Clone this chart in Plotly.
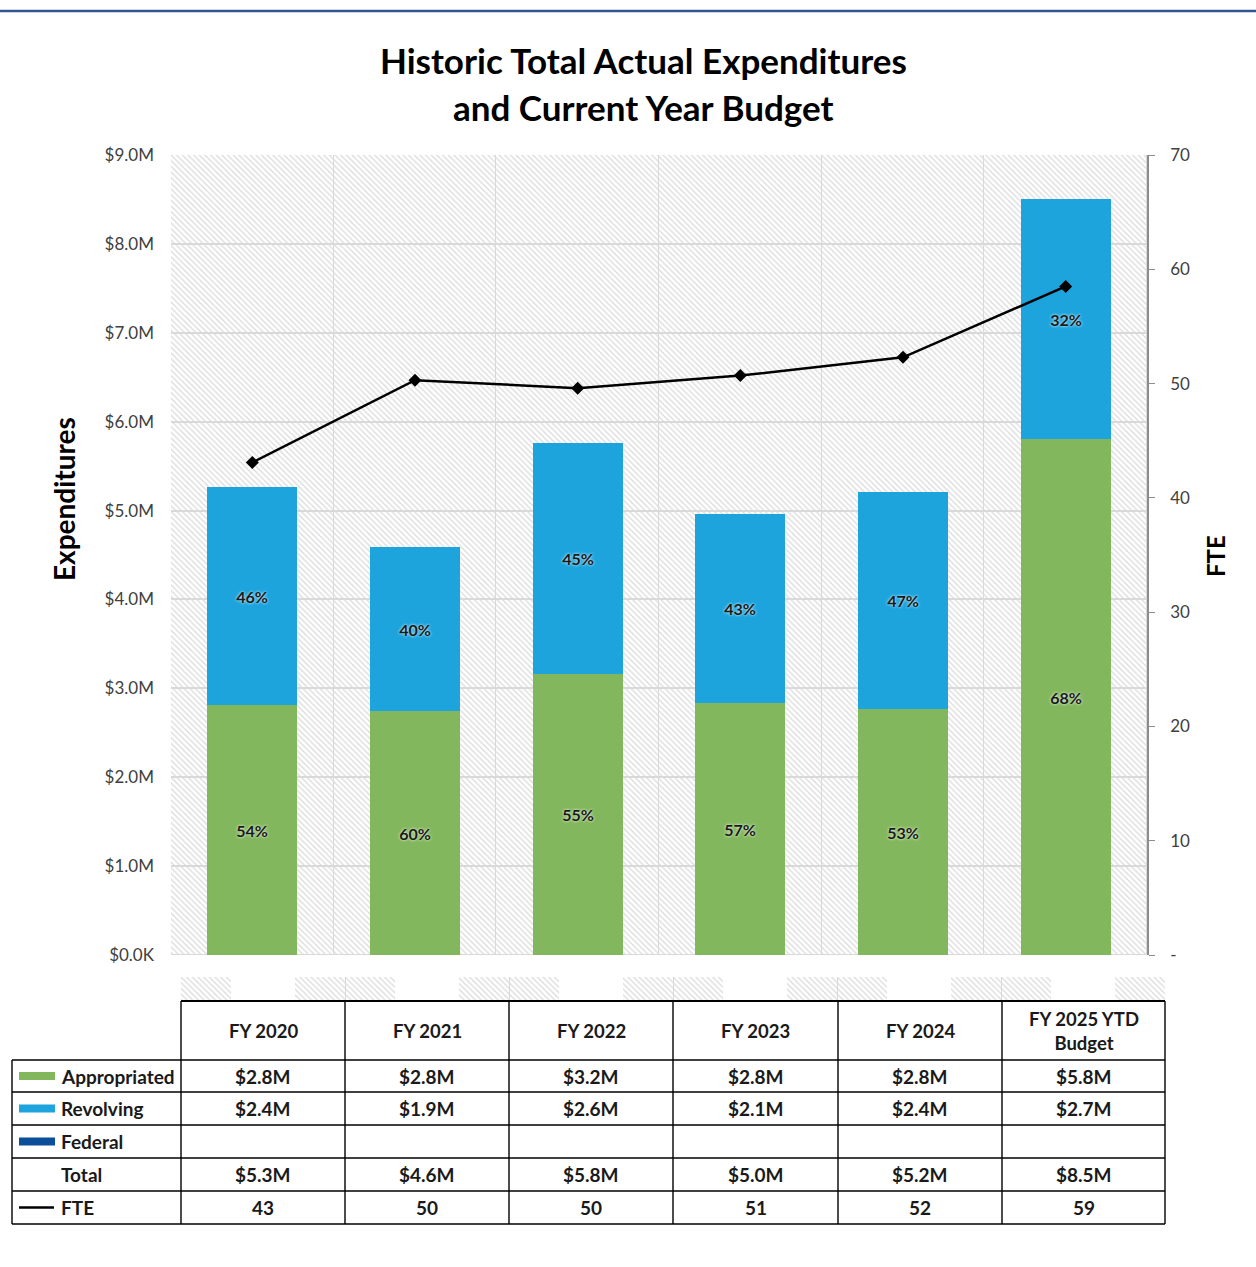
import plotly.graph_objects as go
import numpy as np

# ---------------- data ----------------
categories = ["FY 2020", "FY 2021", "FY 2022", "FY 2023", "FY 2024", "FY 2025 YTD Budget"]
appropriated = [2.81, 2.75, 3.16, 2.83, 2.77, 5.80]      # $M
revolving = [2.46, 1.84, 2.60, 2.13, 2.44, 2.70]         # $M
fte = [43.1, 50.3, 49.6, 50.7, 52.3, 58.5]
appropriated_pct = ["54%", "60%", "55%", "57%", "53%", "68%"]
revolving_pct = ["46%", "40%", "45%", "43%", "47%", "32%"]

y_tick_vals = list(range(0, 10))
y_tick_text = ["$0.0K"] + [f"${v}.0M" for v in range(1, 10)]
fte_tick_vals = list(range(0, 80, 10))
fte_tick_text = ["-"] + [str(v) for v in range(10, 80, 10)]

table_header = ["FY 2020", "FY 2021", "FY 2022", "FY 2023", "FY 2024", "FY 2025 YTD<br>Budget"]
row_labels = ["Appropriated", "Revolving", "Federal", "Total", "FTE"]
table_appropriated = ["$2.8M", "$2.8M", "$3.2M", "$2.8M", "$2.8M", "$5.8M"]
table_revolving = ["$2.4M", "$1.9M", "$2.6M", "$2.1M", "$2.4M", "$2.7M"]
table_federal = ["", "", "", "", "", ""]
table_total = ["$5.3M", "$4.6M", "$5.8M", "$5.0M", "$5.2M", "$8.5M"]
table_fte = ["43", "50", "50", "51", "52", "59"]

# ---------------- styles ----------------
GREEN = "#83b75d"
BLUE = "#1da4dd"
FED = "#0b4e9a"
GRID = "#d9d9d9"
FONT = "Lato"

W, H = 1256, 1267
PL, PR, PT, PB = 12, 1165, 155, 1224   # paper region in pixels


def X(px):
    return (px - PL) / (PR - PL)


def Y(py):
    return (PB - py) / (PB - PT)


fig = go.Figure()

hatch = dict(shape="\\", size=4, solidity=0.3, fillmode="replace", fgcolor=GRID)

# hatched plot-area background
fig.add_trace(go.Bar(
    x=categories, y=[9] * len(categories), width=1,
    marker=dict(color=GRID, pattern=hatch, line=dict(color=GRID, width=1)),
    hoverinfo="skip", showlegend=False,
))

pct_font = dict(family=FONT, size=16, color="#1a1a1a", weight="bold",
                shadow="0px 0px 3px white")
fig.add_trace(go.Bar(
    x=categories, y=appropriated, width=0.553, name="Appropriated",
    marker=dict(color=GREEN, line=dict(width=0)),
    text=appropriated_pct, textposition="inside", insidetextanchor="middle",
    textangle=0, constraintext="none", textfont=pct_font,
))
fig.add_trace(go.Bar(
    x=categories, y=revolving, base=appropriated, width=0.553, name="Revolving",
    marker=dict(color=BLUE, line=dict(width=0)),
    text=revolving_pct, textposition="inside", insidetextanchor="middle",
    textangle=0, constraintext="none", textfont=pct_font,
))
fig.add_trace(go.Scatter(
    x=categories, y=fte, yaxis="y2", mode="lines+markers", name="FTE",
    line=dict(color="black", width=2.5),
    marker=dict(symbol="diamond", size=10, color="black"),
))

# hatched strip under the plot (behind the data table)
n = len(categories)
bounds = np.arange(n + 1) - 0.5
fig.add_trace(go.Bar(
    x=bounds, y=[1] * (n + 1), width=0.604, xaxis="x3", yaxis="y3",
    marker=dict(color=GRID, pattern=hatch, line=dict(width=0)),
    hoverinfo="skip", showlegend=False,
))

fig.update_layout(
    width=W, height=H,
    margin=dict(l=PL, r=W - PR, t=PT, b=H - PB, autoexpand=False),
    paper_bgcolor="white", plot_bgcolor="rgba(0,0,0,0)",
    barmode="overlay", bargap=0, showlegend=False,
    font=dict(family=FONT, color="#404040"),
    xaxis=dict(domain=[X(171), X(1147)], range=[-0.5, n - 0.5], type="category",
               showticklabels=False, showgrid=False, zeroline=False, showline=False,
               ticks=""),
    yaxis=dict(domain=[Y(955), 1], range=[0, 9], tickvals=y_tick_vals, ticktext=y_tick_text,
               showgrid=True, gridcolor=GRID, gridwidth=1.5, zeroline=False, showline=False,
               ticks="", tickfont=dict(size=17, color="#404040", family=FONT),
               ticklabelstandoff=16),
    yaxis2=dict(overlaying="y", side="right", range=[0, 70], tickvals=fte_tick_vals,
                ticktext=fte_tick_text, showgrid=False, zeroline=False, showline=True,
                linecolor="#8c8c8c", linewidth=1.5, ticks="outside", ticklen=6,
                tickcolor="#8c8c8c", tickfont=dict(size=17, color="#404040", family=FONT),
                ticklabelstandoff=12),
    xaxis3=dict(domain=[X(181), 1], anchor="y3", range=[-0.5, n - 0.5],
                tickvals=bounds, showticklabels=False, showgrid=True, gridcolor=GRID,
                zeroline=False, showline=False, ticks=""),
    yaxis3=dict(domain=[Y(1000), Y(977)], anchor="x3", range=[0, 1], visible=False,
                showgrid=False),
)

annotations = []
shapes = []


def ann(text, px, py, size, anchor="center", angle=0, color="black"):
    annotations.append(dict(text=text, x=X(px), y=Y(py), xref="paper", yref="paper",
                            xanchor=anchor, yanchor="middle", showarrow=False,
                            textangle=angle, font=dict(family=FONT, size=size, color=color)))


# titles
ann("<b>Historic Total Actual Expenditures</b>", 643, 60, 35)
ann("<b>and Current Year Budget</b>", 643, 107, 35)
ann("<b>Expenditures</b>", 64, 499, 28, angle=-90)
ann("<b>FTE</b>", 1215, 556, 24, angle=-90)

# top blue rule
shapes.append(dict(type="line", xref="paper", yref="paper", x0=X(0), x1=X(W), y0=Y(11), y1=Y(11),
                   line=dict(color="#2f5597", width=2.5)))

# ---------------- data table ----------------
col_edges = [181, 345, 509, 673, 838, 1002, 1165]
row_edges = [1001, 1060, 1092, 1125, 1158, 1191, 1224]
TL = 12
LINE = dict(color="black", width=1.4)

shapes.append(dict(type="line", xref="paper", yref="paper", x0=X(col_edges[0]), x1=X(col_edges[-1]),
                   y0=Y(row_edges[0]), y1=Y(row_edges[0]), line=dict(color="black", width=2.2)))
for ry in row_edges[1:]:
    shapes.append(dict(type="line", xref="paper", yref="paper", x0=X(TL), x1=X(col_edges[-1]),
                       y0=Y(ry), y1=Y(ry), line=LINE))
shapes.append(dict(type="line", xref="paper", yref="paper", x0=X(TL), x1=X(TL),
                   y0=Y(row_edges[1]), y1=Y(row_edges[-1]), line=LINE))
for cx in col_edges:
    shapes.append(dict(type="line", xref="paper", yref="paper", x0=X(cx), x1=X(cx),
                       y0=Y(row_edges[0]), y1=Y(row_edges[-1]), line=LINE))

col_centers = [(a + b) / 2 for a, b in zip(col_edges[:-1], col_edges[1:])]
row_centers = [(a + b) / 2 for a, b in zip(row_edges[:-1], row_edges[1:])]
TC = "#1a1a1a"

for cx, txt in zip(col_centers, table_header):
    ann(f"<b>{txt}</b>", cx, row_centers[0], 18.5, color=TC)

rows = [table_appropriated, table_revolving, table_federal, table_total, table_fte]
for ri, (lab, vals) in enumerate(zip(row_labels, rows)):
    cy = row_centers[ri + 1]
    ann(f"<b>{lab}</b>", 59, cy, 19, anchor="left", color=TC)
    for cx, v in zip(col_centers, vals):
        if v:
            ann(f"<b>{v}</b>", cx, cy, 19, color=TC)

swatch_colors = [GREEN, BLUE, FED]
for ri, c in enumerate(swatch_colors):
    cy = row_centers[ri + 1]
    shapes.append(dict(type="rect", xref="paper", yref="paper", x0=X(19), x1=X(55),
                       y0=Y(cy + 4), y1=Y(cy - 4), fillcolor=c, line=dict(width=0)))
cy = row_centers[5]
shapes.append(dict(type="line", xref="paper", yref="paper", x0=X(19), x1=X(54),
                   y0=Y(cy), y1=Y(cy), line=dict(color="black", width=2.5)))

fig.update_layout(annotations=annotations, shapes=shapes)

fig.write_html("out.html")
